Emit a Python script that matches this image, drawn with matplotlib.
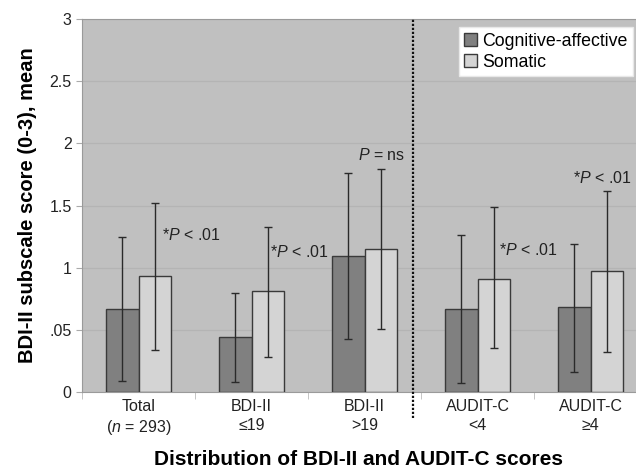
import matplotlib
matplotlib.use("Agg")
import matplotlib.pyplot as plt
import numpy as np

plt.rcParams['font.family'] = ['Liberation Sans', 'DejaVu Sans']
plt.rcParams['mathtext.fontset'] = 'custom'
plt.rcParams['mathtext.rm'] = 'Liberation Sans'
plt.rcParams['mathtext.it'] = 'Liberation Sans:italic'

# ---------- Data ----------
groups = ["Total\n($n$ = 293)", "BDI-II\n≤19", "BDI-II\n>19", "AUDIT-C\n<4", "AUDIT-C\n≥4"]
cog_mean = [0.67, 0.44, 1.09, 0.67, 0.68]
cog_lo = [0.09, 0.08, 0.43, 0.07, 0.16]
cog_hi = [1.25, 0.80, 1.76, 1.26, 1.19]
som_mean = [0.93, 0.81, 1.15, 0.91, 0.97]
som_lo = [0.34, 0.28, 0.51, 0.35, 0.32]
som_hi = [1.52, 1.33, 1.79, 1.49, 1.62]
p_labels = ["*$P$ < .01", "*$P$ < .01", "$P$ = ns", "*$P$ < .01", "*$P$ < .01"]
yticks = [0, 0.5, 1, 1.5, 2, 2.5, 3]
ytick_labels = ["0", ".05", "1", "1.5", "2", "2.5", "3"]

# where the p-value notes sit (offset from group centre, height, alignment)
p_dx = [0.21, 0.16, 0.15, 0.19, -0.16]
p_y = [1.26, 1.13, 1.91, 1.14, 1.72]
p_ha = ["left", "left", "center", "left", "left"]

# ---------- Figure ----------
fig = plt.figure(figsize=(6.36, 4.72), dpi=100)
ax = fig.add_axes([82 / 636, 1 - 392 / 472, 1 - 82 / 636, (392 - 19) / 472])
ax.set_facecolor("#c0c0c0")

x = np.arange(len(groups))
w = 0.288
cog_c = "#808080"
som_c = "#d4d4d4"
edge = "#3a3a3a"

cog_err = [np.array(cog_mean) - np.array(cog_lo), np.array(cog_hi) - np.array(cog_mean)]
som_err = [np.array(som_mean) - np.array(som_lo), np.array(som_hi) - np.array(som_mean)]

ax.bar(x - w / 2, cog_mean, w, color=cog_c, edgecolor=edge, linewidth=1,
       label="Cognitive-affective", zorder=3)
ax.bar(x + w / 2, som_mean, w, color=som_c, edgecolor=edge, linewidth=1,
       label="Somatic", zorder=3)
ax.errorbar(x - w / 2, cog_mean, yerr=cog_err, fmt="none", ecolor="#2a2a2a",
            elinewidth=1, capsize=3, capthick=1, zorder=4)
ax.errorbar(x + w / 2, som_mean, yerr=som_err, fmt="none", ecolor="#2a2a2a",
            elinewidth=1, capsize=3, capthick=1, zorder=4)

for i, lab in enumerate(p_labels):
    ax.text(x[i] + p_dx[i], p_y[i], lab, ha=p_ha[i], va="center", fontsize=11.5,
            color="#222222", zorder=5)

# dotted separator between BDI-II and AUDIT-C groups
ax.axvline(2.427, ymin=-0.07, ymax=1, color="#111111", linestyle=(0, (1, 0.8)),
           linewidth=1.6, clip_on=False, zorder=5)

ax.set_xlim(-0.5, 4.4)
ax.set_ylim(0, 3)
ax.set_yticks(yticks)
ax.set_yticklabels(ytick_labels)
ax.yaxis.grid(True, color="#b4b4b4", linewidth=0.9, zorder=0)
ax.set_axisbelow(True)

ax.set_xticks(x)
ax.set_xticklabels(groups, fontsize=11.5, color="#222222", linespacing=1.3)
ax.set_xticks(np.arange(-0.5, 4.5, 1), minor=True)
ax.tick_params(axis="x", which="major", length=0, pad=5)
ax.tick_params(axis="x", which="minor", length=5, color="#bbbbbb")
ax.tick_params(axis="y", length=4, color="#aaaaaa", labelsize=11.5, labelcolor="#222222")

for s in ["left", "bottom", "top"]:
    ax.spines[s].set_color("#9a9a9a")
ax.spines["right"].set_visible(False)

ax.set_ylabel("BDI-II subscale score (0-3), mean", fontsize=14.5, fontweight="bold",
              labelpad=9)
ax.set_xlabel("Distribution of BDI-II and AUDIT-C scores", fontsize=15, fontweight="bold",
              labelpad=9)

leg = ax.legend(loc="upper right", bbox_to_anchor=(0.995, 0.978), fontsize=12.8,
                frameon=True, fancybox=False, framealpha=1, edgecolor="#e8e8e8",
                handlelength=0.75, handleheight=0.75, handletextpad=0.3,
                borderpad=0.3, labelspacing=0.25, borderaxespad=0)
leg.get_frame().set_linewidth(1)

fig.savefig("out.png", dpi=100)
